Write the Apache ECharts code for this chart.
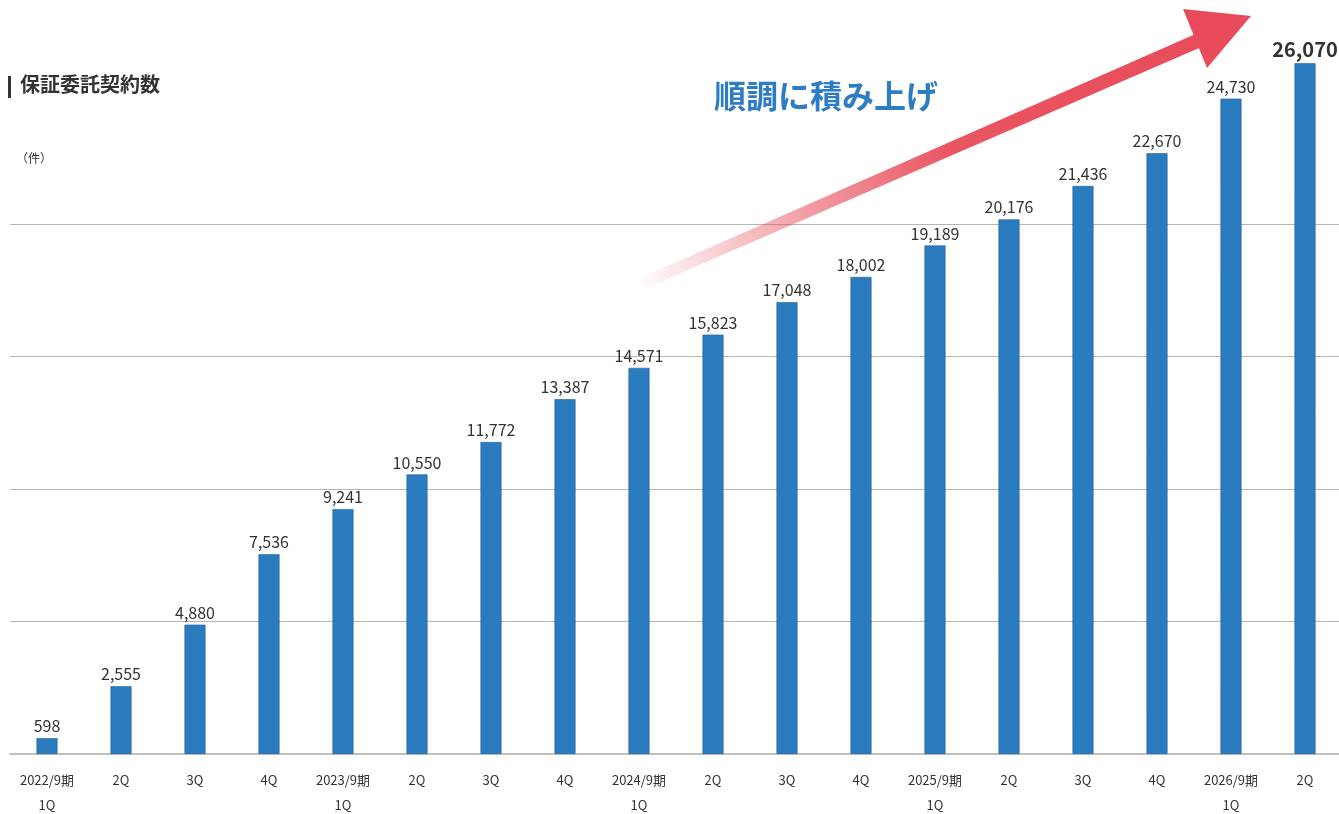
<!DOCTYPE html>
<html>
<head>
<meta charset="utf-8">
<script src="https://cdn.jsdelivr.net/npm/echarts@6/dist/echarts.min.js"></script>
<style>
  html, body { margin: 0; padding: 0; background: #fff; }
  #main { width: 1339px; height: 814px; }
</style>
</head>
<body>
<div id="main"></div>
<script>
// 保証委託契約数（件）
const categories = [
  '2022/9期\n1Q', '2Q', '3Q', '4Q',
  '2023/9期\n1Q', '2Q', '3Q', '4Q',
  '2024/9期\n1Q', '2Q', '3Q', '4Q',
  '2025/9期\n1Q', '2Q', '3Q', '4Q',
  '2026/9期\n1Q', '2Q'
]
const contracts = [
  598, 2555, 4880, 7536,
  9241, 10550, 11772, 13387,
  14571, 15823, 17048, 18002,
  19189, 20176, 21436, 22670,
  24730, 26070
]
const gridValues = [5000, 10000, 15000, 20000]

const FONT = '"Noto Sans CJK JP", "Noto Sans", sans-serif'
const lastIdx = contracts.length - 1

const chart = echarts.init(document.getElementById('main'))

chart.setOption({
  animation: false,
  textStyle: { fontFamily: FONT },
  grid: { left: 10, top: 12, width: 1332, height: 742, containLabel: false, outerBoundsMode: 'none' },
  xAxis: {
    type: 'category',
    data: categories,
    axisLine: { lineStyle: { color: '#aaaaaa', width: 1.5 } },
    axisTick: { show: false },
    axisLabel: {
      color: '#333',
      fontSize: 13,
      lineHeight: 25,
      margin: 14,
      fontFamily: FONT
    }
  },
  yAxis: {
    type: 'value',
    min: 0,
    max: 28000,
    show: false,
    splitLine: { show: false }
  },
  series: [{
    type: 'bar',
    data: contracts.map((v, i) => ({
      value: v,
      label: i === lastIdx ? { fontSize: 20, fontWeight: 'bold', color: '#333' } : {}
    })),
    barWidth: 21,
    itemStyle: { color: '#2b7bbf', borderColor: '#225f96', borderWidth: 0.6 },
    label: {
      show: true,
      position: 'top',
      distance: 4,
      color: '#333',
      fontSize: 16,
      fontFamily: FONT,
      formatter: p => p.value.toLocaleString('en-US')
    },
    markLine: {
      silent: true,
      symbol: 'none',
      label: { show: false },
      lineStyle: { color: '#b5b5b5', type: 'solid', width: 1 },
      data: gridValues.map(v => ({ yAxis: v })),
      z: 1
    }
  }],
  graphic: [
    { type: 'rect', left: 8, top: 76, shape: { width: 3, height: 22 }, style: { fill: '#333' } },
    {
      type: 'text', left: 20, top: 74,
      style: { text: '保証委託契約数', fill: '#333', font: 'bold 20px ' + FONT }
    },
    {
      type: 'text', left: 16, top: 152,
      style: { text: '（件）', fill: '#333', font: '12px ' + FONT }
    },
    // red arrow shaft
    {
      type: 'polygon',
      shape: { points: [[636, 280], [1200, 32], [1206, 45], [644, 289]] },
      style: {
        fill: new echarts.graphic.LinearGradient(0, 1, 1, 0, [
          { offset: 0, color: 'rgba(232,76,90,0)' },
          { offset: 0.3, color: 'rgba(232,76,90,0.55)' },
          { offset: 0.55, color: 'rgba(232,76,90,0.95)' },
          { offset: 1, color: '#e84c5a' }
        ])
      },
      z: 5
    },
    // arrow head
    {
      type: 'polygon',
      shape: { points: [[1183, 9], [1251, 16], [1207, 68]] },
      style: { fill: '#e84c5a' },
      z: 5
    },
    {
      type: 'text', left: 714, top: 80,
      style: { text: '順調に積み上げ', fill: '#2e7cc4', font: 'bold 32px ' + FONT },
      z: 6
    }
  ]
})
</script>
</body>
</html>
